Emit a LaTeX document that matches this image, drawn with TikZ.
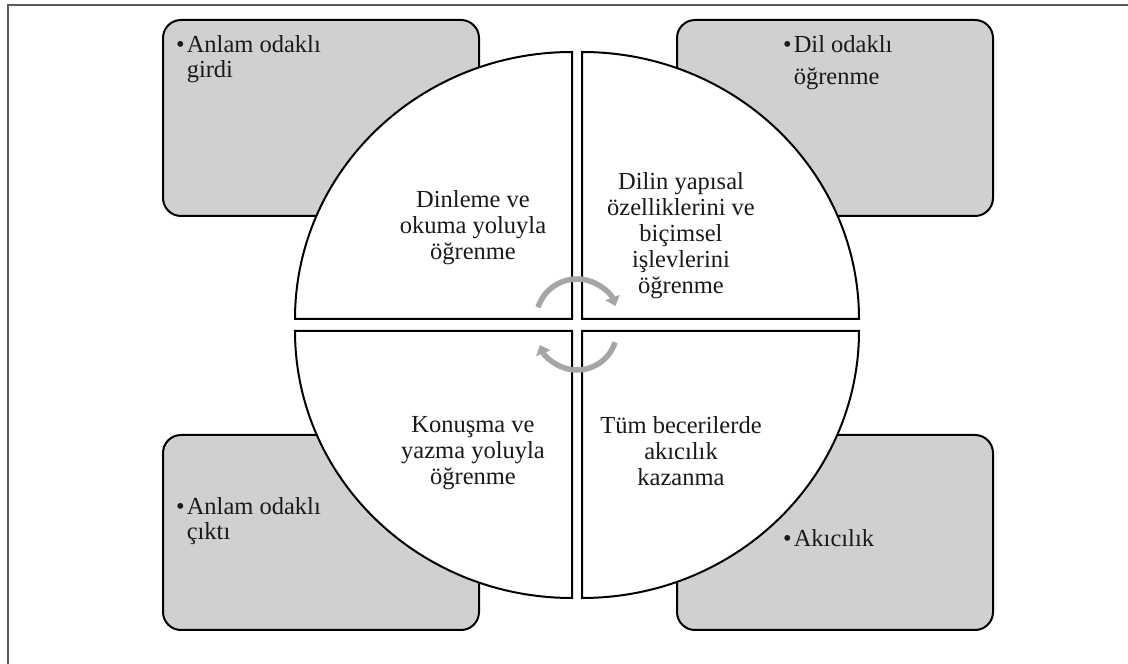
\documentclass[tikz,border=0pt]{standalone}
\usepackage{fontspec}
\setmainfont{Liberation Serif}
\usetikzlibrary{arrows.meta}
\definecolor{boxgray}{RGB}{208,208,208}
\definecolor{cyclegray}{RGB}{166,166,166}
\definecolor{framegray}{RGB}{90,90,90}

\begin{document}
\begin{tikzpicture}[x=1pt,y=1pt,
  infobox/.style={draw=black, line width=2pt, fill=boxgray, rounded corners=18pt,
    minimum width=316pt, inner sep=0pt},
  quadrant/.style={draw=black, line width=2pt, fill=white, line join=miter},
  lbl/.style={font=\fontsize{24.5}{26}\selectfont, inner sep=0pt, text=black!90},
  cyc/.style={draw=cyclegray, line width=5.5pt, -{Triangle[width=15pt,length=9pt]}},
]
\useasboundingbox (0,0) rectangle (1128,664);

% page frame (top and left edges)
\draw[framegray, line width=1.3pt] (8,0) -- (8,659) -- (1128,659);

% four outer grey boxes
\node[infobox, minimum height=196pt] (tlbox) at (321,546) {};
\node[infobox, minimum height=196pt] (trbox) at (835,546) {};
\node[infobox, minimum height=195pt] (blbox) at (321,131.5) {};
\node[infobox, minimum height=195pt] (brbox) at (835,131.5) {};

% the split circle: four quadrants
\coordinate (hub) at (577,339);
\path[quadrant] (572,345) -- (295,345)
  arc[start angle=180, end angle=90, x radius=277, y radius=267] -- cycle;
\path[quadrant] (582,345) -- (582,612)
  arc[start angle=90, end angle=0, x radius=277, y radius=267] -- cycle;
\path[quadrant] (572,333) -- (295,333)
  arc[start angle=180, end angle=270, x radius=277, y radius=267] -- cycle;
\path[quadrant] (582,333) -- (582,66)
  arc[start angle=270, end angle=360, x radius=277, y radius=267] -- cycle;

% quadrant texts
\node[lbl, align=center] (qtl) at (473,436) {Dinleme ve\\okuma yoluyla\\öğrenme};
\node[lbl, align=center] (qtr) at (681,428.5) {Dilin yapısal\\özelliklerini ve\\biçimsel\\işlevlerini\\öğrenme};
\node[lbl, align=center] (qbl) at (473,210.5) {Konuşma ve\\yazma yoluyla\\öğrenme};
\node[lbl, align=center] (qbr) at (681,213) {Tüm becerilerde\\akıcılık\\kazanma};

% bullet texts in the grey boxes (base anchor = last line)
\node[lbl, align=left, anchor=base west] (ttl) at (176,586)
  {•\hspace{2pt}Anlam odaklı\\[-1pt]\hphantom{•\hspace{2pt}}girdi};
\node[lbl, align=left, anchor=base west] (ttr) at (783,579)
  {•\hspace{2pt}Dil odaklı\\[6pt]\hphantom{•\hspace{2pt}}öğrenme};
\node[lbl, align=left, anchor=base west] (tbl) at (176,124)
  {•\hspace{2pt}Anlam odaklı\\[-1pt]\hphantom{•\hspace{2pt}}çıktı};
\node[lbl, align=left, anchor=base west] (tbr) at (783,117)
  {•\hspace{2pt}Akıcılık};

% central cycle arrows
\draw[cyc] ([shift={(162:41)}]577,344) arc[start angle=162, end angle=20, radius=41];
\draw[cyc] ([shift={(-18:40)}]577,334) arc[start angle=-18, end angle=-158, radius=40];
\end{tikzpicture}
\end{document}
